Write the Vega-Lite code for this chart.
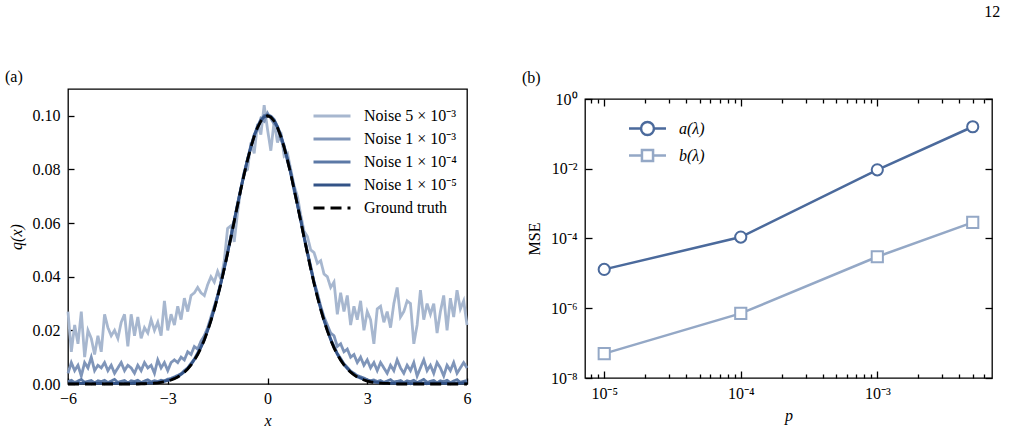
{
"$schema":"https://vega.github.io/schema/vega-lite/v6.json",
"background":"white",
"padding":{"left":4,"top":4,"right":0,"bottom":0},
"title":{"text":"12","anchor":"end","frame":"bounds","offset":48,"dx":7,"fontSize":16},
"config":{
 "font":"Liberation Serif",
 "view":{"stroke":"black","strokeWidth":1.3},
 "axis":{"labelFont":"Liberation Serif","labelFontSize":16,"titleFont":"Liberation Serif","titleFontSize":16,"titleFontWeight":"normal","labelColor":"black","titleColor":"black","tickColor":"black","tickWidth":1.3,"domain":false,"grid":false,"labelFlush":false,"labelOverlap":false},
 "legend":{"labelFont":"Liberation Serif","labelFontSize":16,"labelColor":"black","padding":0},
 "title":{"font":"Liberation Serif","fontSize":16,"fontWeight":"normal","color":"black"}
},
"spacing":48,
"resolve":{"scale":{"color":"independent","strokeDash":"independent","strokeWidth":"independent"},"legend":{"color":"independent","strokeDash":"independent","strokeWidth":"independent"}},
"hconcat":[
{
 "width":399,"height":295,
 "title":{"text":"(a)","anchor":"start","frame":"bounds","offset":4,"dx":-3},
 "data":{"values":[
{"x":-6.0,"g":0,"e5":0.0002,"e4":0.0009,"e3":0.004,"s5":0.027},
{"x":-5.9,"g":0,"e5":0.0003,"e4":0.0014,"e3":0.008,"s5":0.012},
{"x":-5.8,"g":0,"e5":0.0001,"e4":0.0005,"e3":0.005,"s5":0.022},
{"x":-5.7,"g":0,"e5":0.0003,"e4":0.0011,"e3":0.007,"s5":0.015},
{"x":-5.6,"g":0,"e5":0.0002,"e4":0.0017,"e3":0.003,"s5":0.027},
{"x":-5.5,"g":0,"e5":0.0004,"e4":0.0006,"e3":0.008,"s5":0.010},
{"x":-5.4,"g":0,"e5":0.0002,"e4":0.0010,"e3":0.006,"s5":0.020},
{"x":-5.3,"g":0,"e5":0.0001,"e4":0.0013,"e3":0.010,"s5":0.017},
{"x":-5.2,"g":0,"e5":0.0003,"e4":0.0004,"e3":0.005,"s5":0.011},
{"x":-5.1,"g":0,"e5":0.0002,"e4":0.0012,"e3":0.007,"s5":0.018},
{"x":-5.0,"g":0,"e5":0.0003,"e4":0.0009,"e3":0.006,"s5":0.012},
{"x":-4.9,"g":0,"e5":0.0001,"e4":0.0014,"e3":0.008,"s5":0.026},
{"x":-4.8,"g":0,"e5":0.0002,"e4":0.0005,"e3":0.005,"s5":0.021},
{"x":-4.7,"g":0,"e5":0.0004,"e4":0.0011,"e3":0.007,"s5":0.018},
{"x":-4.6,"g":0,"e5":0.0002,"e4":0.0017,"e3":0.004,"s5":0.020},
{"x":-4.5,"g":0,"e5":0.0003,"e4":0.0006,"e3":0.006,"s5":0.017},
{"x":-4.4,"g":0,"e5":0.0001,"e4":0.0010,"e3":0.008,"s5":0.023},
{"x":-4.3,"g":0,"e5":0.0002,"e4":0.0013,"e3":0.005,"s5":0.026},
{"x":-4.2,"g":0,"e5":0.0003,"e4":0.0004,"e3":0.007,"s5":0.014},
{"x":-4.1,"g":0,"e5":0.0002,"e4":0.0012,"e3":0.006,"s5":0.026},
{"x":-4.0,"g":0,"e5":0.0004,"e4":0.0009,"e3":0.004,"s5":0.018},
{"x":-3.9,"g":0,"e5":0.0002,"e4":0.0014,"e3":0.007,"s5":0.025},
{"x":-3.8,"g":0.0001,"e5":0.0003,"e4":0.0005,"e3":0.005,"s5":0.017},
{"x":-3.7,"g":0.0001,"e5":0.0002,"e4":0.0011,"e3":0.008,"s5":0.021},
{"x":-3.6,"g":0.0002,"e5":0.0004,"e4":0.0016,"e3":0.006,"s5":0.019},
{"x":-3.5,"g":0.0002,"e5":0.0003,"e4":0.0008,"e3":0.007,"s5":0.024},
{"x":-3.4,"g":0.0003,"e5":0.0005,"e4":0.0012,"e3":0.004,"s5":0.020},
{"x":-3.3,"g":0.0004,"e5":0.0006,"e4":0.0009,"e3":0.009,"s5":0.023},
{"x":-3.2,"g":0.0006,"e5":0.0008,"e4":0.0014,"e3":0.006,"s5":0.018},
{"x":-3.1,"g":0.0008,"e5":0.0010,"e4":0.0012,"e3":0.008,"s5":0.031},
{"x":-3.0,"g":0.0011,"e5":0.0013,"e4":0.0018,"e3":0.005,"s5":0.020},
{"x":-2.9,"g":0.0015,"e5":0.0017,"e4":0.0021,"e3":0.008,"s5":0.026},
{"x":-2.8,"g":0.0020,"e5":0.0022,"e4":0.0026,"e3":0.009,"s5":0.022},
{"x":-2.7,"g":0.0026,"e5":0.0027,"e4":0.0032,"e3":0.008,"s5":0.029},
{"x":-2.6,"g":0.0034,"e5":0.0036,"e4":0.0038,"e3":0.010,"s5":0.024},
{"x":-2.5,"g":0.0044,"e5":0.0045,"e4":0.0050,"e3":0.009,"s5":0.032},
{"x":-2.4,"g":0.0056,"e5":0.0058,"e4":0.0060,"e3":0.012,"s5":0.027},
{"x":-2.3,"g":0.0071,"e5":0.0072,"e4":0.0077,"e3":0.011,"s5":0.033},
{"x":-2.2,"g":0.0089,"e5":0.0091,"e4":0.0093,"e3":0.014,"s5":0.034},
{"x":-2.1,"g":0.0110,"e5":0.0111,"e4":0.0116,"e3":0.013,"s5":0.036},
{"x":-2.0,"g":0.0135,"e5":0.0137,"e4":0.0139,"e3":0.016,"s5":0.034},
{"x":-1.9,"g":0.0164,"e5":0.0165,"e4":0.0170,"e3":0.018,"s5":0.033},
{"x":-1.8,"g":0.0198,"e5":0.0200,"e4":0.0202,"e3":0.021,"s5":0.037},
{"x":-1.7,"g":0.0236,"e5":0.0237,"e4":0.0241,"e3":0.025,"s5":0.040},
{"x":-1.6,"g":0.0278,"e5":0.0280,"e4":0.0282,"e3":0.029,"s5":0.038},
{"x":-1.5,"g":0.0325,"e5":0.0326,"e4":0.0330,"e3":0.033,"s5":0.042},
{"x":-1.4,"g":0.0375,"e5":0.0377,"e4":0.0379,"e3":0.038,"s5":0.039},
{"x":-1.3,"g":0.0430,"e5":0.0431,"e4":0.0436,"e3":0.043,"s5":0.046},
{"x":-1.2,"g":0.0487,"e5":0.0489,"e4":0.0491,"e3":0.049,"s5":0.058},
{"x":-1.1,"g":0.0546,"e5":0.0547,"e4":0.0552,"e3":0.055,"s5":0.059},
{"x":-1.0,"g":0.0607,"e5":0.0609,"e4":0.0611,"e3":0.061,"s5":0.053},
{"x":-0.9,"g":0.0667,"e5":0.0668,"e4":0.0673,"e3":0.067,"s5":0.064},
{"x":-0.8,"g":0.0726,"e5":0.0728,"e4":0.0730,"e3":0.073,"s5":0.073},
{"x":-0.7,"g":0.0783,"e5":0.0784,"e4":0.0789,"e3":0.078,"s5":0.079},
{"x":-0.6,"g":0.0835,"e5":0.0837,"e4":0.0839,"e3":0.084,"s5":0.080},
{"x":-0.5,"g":0.0882,"e5":0.0883,"e4":0.0888,"e3":0.088,"s5":0.090},
{"x":-0.4,"g":0.0923,"e5":0.0925,"e4":0.0927,"e3":0.093,"s5":0.086},
{"x":-0.3,"g":0.0956,"e5":0.0957,"e4":0.0962,"e3":0.095,"s5":0.097},
{"x":-0.2,"g":0.0980,"e5":0.0982,"e4":0.0984,"e3":0.099,"s5":0.093},
{"x":-0.1,"g":0.0995,"e5":0.0996,"e4":0.1001,"e3":0.098,"s5":0.104},
{"x":0.0,"g":0.1000,"e5":0.1002,"e4":0.1004,"e3":0.101,"s5":0.095},
{"x":0.1,"g":0.0995,"e5":0.0996,"e4":0.0999,"e3":0.099,"s5":0.087},
{"x":0.2,"g":0.0980,"e5":0.0982,"e4":0.0986,"e3":0.097,"s5":0.098},
{"x":0.3,"g":0.0956,"e5":0.0957,"e4":0.0960,"e3":0.096,"s5":0.090},
{"x":0.4,"g":0.0923,"e5":0.0925,"e4":0.0929,"e3":0.091,"s5":0.094},
{"x":0.5,"g":0.0882,"e5":0.0883,"e4":0.0886,"e3":0.089,"s5":0.085},
{"x":0.6,"g":0.0835,"e5":0.0837,"e4":0.0841,"e3":0.083,"s5":0.086},
{"x":0.7,"g":0.0783,"e5":0.0784,"e4":0.0787,"e3":0.079,"s5":0.080},
{"x":0.8,"g":0.0726,"e5":0.0728,"e4":0.0732,"e3":0.072,"s5":0.074},
{"x":0.9,"g":0.0667,"e5":0.0668,"e4":0.0671,"e3":0.067,"s5":0.070},
{"x":1.0,"g":0.0607,"e5":0.0609,"e4":0.0613,"e3":0.061,"s5":0.063},
{"x":1.1,"g":0.0546,"e5":0.0547,"e4":0.0550,"e3":0.055,"s5":0.057},
{"x":1.2,"g":0.0487,"e5":0.0489,"e4":0.0493,"e3":0.049,"s5":0.055},
{"x":1.3,"g":0.0430,"e5":0.0431,"e4":0.0434,"e3":0.044,"s5":0.050},
{"x":1.4,"g":0.0375,"e5":0.0377,"e4":0.0381,"e3":0.038,"s5":0.049},
{"x":1.5,"g":0.0325,"e5":0.0326,"e4":0.0329,"e3":0.034,"s5":0.045},
{"x":1.6,"g":0.0278,"e5":0.0280,"e4":0.0284,"e3":0.029,"s5":0.046},
{"x":1.7,"g":0.0236,"e5":0.0237,"e4":0.0240,"e3":0.025,"s5":0.041},
{"x":1.8,"g":0.0198,"e5":0.0200,"e4":0.0204,"e3":0.022,"s5":0.040},
{"x":1.9,"g":0.0164,"e5":0.0165,"e4":0.0168,"e3":0.019,"s5":0.036},
{"x":2.0,"g":0.0135,"e5":0.0137,"e4":0.0141,"e3":0.018,"s5":0.038},
{"x":2.1,"g":0.0110,"e5":0.0111,"e4":0.0114,"e3":0.014,"s5":0.026},
{"x":2.2,"g":0.0089,"e5":0.0091,"e4":0.0095,"e3":0.015,"s5":0.034},
{"x":2.3,"g":0.0071,"e5":0.0072,"e4":0.0075,"e3":0.012,"s5":0.027},
{"x":2.4,"g":0.0056,"e5":0.0058,"e4":0.0062,"e3":0.013,"s5":0.033},
{"x":2.5,"g":0.0044,"e5":0.0045,"e4":0.0048,"e3":0.010,"s5":0.022},
{"x":2.6,"g":0.0034,"e5":0.0036,"e4":0.0040,"e3":0.011,"s5":0.029},
{"x":2.7,"g":0.0026,"e5":0.0027,"e4":0.0031,"e3":0.008,"s5":0.024},
{"x":2.8,"g":0.0020,"e5":0.0022,"e4":0.0027,"e3":0.010,"s5":0.031},
{"x":2.9,"g":0.0015,"e5":0.0017,"e4":0.0022,"e3":0.007,"s5":0.020},
{"x":3.0,"g":0.0011,"e5":0.0013,"e4":0.0016,"e3":0.009,"s5":0.027},
{"x":3.1,"g":0.0008,"e5":0.0010,"e4":0.0012,"e3":0.006,"s5":0.024},
{"x":3.2,"g":0.0006,"e5":0.0008,"e4":0.0015,"e3":0.008,"s5":0.015},
{"x":3.3,"g":0.0004,"e5":0.0006,"e4":0.0009,"e3":0.005,"s5":0.028},
{"x":3.4,"g":0.0003,"e5":0.0005,"e4":0.0013,"e3":0.008,"s5":0.029},
{"x":3.5,"g":0.0002,"e5":0.0004,"e4":0.0006,"e3":0.006,"s5":0.023},
{"x":3.6,"g":0.0002,"e5":0.0003,"e4":0.0011,"e3":0.004,"s5":0.027},
{"x":3.7,"g":0.0001,"e5":0.0002,"e4":0.0016,"e3":0.007,"s5":0.021},
{"x":3.8,"g":0.0001,"e5":0.0003,"e4":0.0007,"e3":0.005,"s5":0.030},
{"x":3.9,"g":0,"e5":0.0002,"e4":0.0010,"e3":0.009,"s5":0.036},
{"x":4.0,"g":0,"e5":0.0004,"e4":0.0013,"e3":0.006,"s5":0.025},
{"x":4.1,"g":0,"e5":0.0002,"e4":0.0005,"e3":0.004,"s5":0.027},
{"x":4.2,"g":0,"e5":0.0003,"e4":0.0012,"e3":0.007,"s5":0.031},
{"x":4.3,"g":0,"e5":0.0001,"e4":0.0009,"e3":0.005,"s5":0.030},
{"x":4.4,"g":0,"e5":0.0002,"e4":0.0014,"e3":0.008,"s5":0.015},
{"x":4.5,"g":0,"e5":0.0004,"e4":0.0005,"e3":0.003,"s5":0.022},
{"x":4.6,"g":0,"e5":0.0002,"e4":0.0011,"e3":0.006,"s5":0.035},
{"x":4.7,"g":0,"e5":0.0003,"e4":0.0017,"e3":0.009,"s5":0.024},
{"x":4.8,"g":0,"e5":0.0001,"e4":0.0006,"e3":0.005,"s5":0.030},
{"x":4.9,"g":0,"e5":0.0002,"e4":0.0010,"e3":0.007,"s5":0.026},
{"x":5.0,"g":0,"e5":0.0003,"e4":0.0013,"e3":0.004,"s5":0.030},
{"x":5.1,"g":0,"e5":0.0002,"e4":0.0004,"e3":0.008,"s5":0.019},
{"x":5.2,"g":0,"e5":0.0004,"e4":0.0012,"e3":0.006,"s5":0.027},
{"x":5.3,"g":0,"e5":0.0002,"e4":0.0009,"e3":0.003,"s5":0.033},
{"x":5.4,"g":0,"e5":0.0003,"e4":0.0014,"e3":0.007,"s5":0.020},
{"x":5.5,"g":0,"e5":0.0001,"e4":0.0005,"e3":0.005,"s5":0.032},
{"x":5.6,"g":0,"e5":0.0002,"e4":0.0011,"e3":0.008,"s5":0.025},
{"x":5.7,"g":0,"e5":0.0003,"e4":0.0016,"e3":0.004,"s5":0.035},
{"x":5.8,"g":0,"e5":0.0002,"e4":0.0006,"e3":0.006,"s5":0.028},
{"x":5.9,"g":0,"e5":0.0004,"e4":0.0010,"e3":0.008,"s5":0.031},
{"x":6.0,"g":0,"e5":0.0002,"e4":0.0013,"e3":0.006,"s5":0.022}
 ]},
 "transform":[{"fold":["s5","e3","e4","e5","g"],"as":["series","q"]}],
 "mark":{"type":"line"},
 "encoding":{
  "x":{"field":"x","type":"quantitative","scale":{"domain":[-6,6],"nice":false,"zero":false},
       "axis":{"values":[-6,-3,0,3,6],"labelExpr":"datum.value < 0 ? '−' + abs(datum.value) : '' + datum.value","title":"x","titleFontStyle":"italic","tickSize":-6,"labelPadding":12,"titlePadding":6}},
  "y":{"field":"q","type":"quantitative","scale":{"domain":[0,0.11],"nice":false},
       "axis":{"values":[0,0.02,0.04,0.06,0.08,0.1],"format":".2f","title":"q(x)","titleFontStyle":"italic","tickSize":-6,"labelPadding":14,"titlePadding":8}},
  "color":{"field":"series","type":"nominal",
     "scale":{"domain":["s5","e3","e4","e5","g"],"range":["#a7b7cf","#7f95b9","#5c79a6","#335387","#000000"]},
     "legend":{"title":null,"orient":"none","legendX":253,"legendY":16,"symbolType":"M-2,0L2,0","symbolSize":342,"labelOffset":21,"rowPadding":4,
       "labelExpr":"datum.value == 's5' ? 'Noise 5 × 10⁻³' : datum.value == 'e3' ? 'Noise 1 × 10⁻³' : datum.value == 'e4' ? 'Noise 1 × 10⁻⁴' : datum.value == 'e5' ? 'Noise 1 × 10⁻⁵' : 'Ground truth'"}},
  "strokeDash":{"field":"series","type":"nominal",
     "scale":{"domain":["s5","e3","e4","e5","g"],"range":[[1,0],[1,0],[1,0],[1,0],[11,6]]}},
  "strokeWidth":{"field":"series","type":"nominal",
     "scale":{"domain":["s5","e3","e4","e5","g"],"range":[2.8,2.8,2.8,2.8,3.3]}}
 }
},
{
 "spacing":0,
 "vconcat":[
 {
  "width":407,"height":1,
  "title":{"text":"(b)","anchor":"start","frame":"group","offset":3,"dx":-63},
  "view":{"stroke":null},
  "mark":{"type":"text"},
  "encoding":{}
 },
 {
 "width":407,"height":279,
 "data":{"values":[
  {"p":0.00001,"s":"a","mse":0.000013},
  {"p":0.0001,"s":"a","mse":0.00011},
  {"p":0.001,"s":"a","mse":0.0093},
  {"p":0.005,"s":"a","mse":0.16},
  {"p":0.00001,"s":"b","mse":0.00000005},
  {"p":0.0001,"s":"b","mse":0.00000071},
  {"p":0.001,"s":"b","mse":0.00003},
  {"p":0.005,"s":"b","mse":0.00029}
 ]},
 "layer":[
  {"mark":{"type":"line","strokeWidth":2.5},
   "encoding":{
    "x":{"field":"p","type":"quantitative","scale":{"type":"log","domain":[0.00000723,0.00692],"nice":false},
         "axis":{"orient":"bottom","values":[0.00001,0.0001,0.001],"labelExpr":"datum.value < 0.00003 ? '10⁻⁵' : datum.value < 0.0003 ? '10⁻⁴' : '10⁻³'","title":"p","titleFontStyle":"italic","tickSize":-7,"labelPadding":14,"titlePadding":6}},
    "y":{"field":"mse","type":"quantitative","scale":{"type":"log","domain":[0.00000001,1],"nice":false},
         "axis":{"orient":"left","values":[0.00000001,0.000001,0.0001,0.01,1],"labelExpr":"datum.value > 0.5 ? '10⁰' : datum.value > 0.001 ? '10⁻²' : datum.value > 0.00001 ? '10⁻⁴' : datum.value > 0.0000001 ? '10⁻⁶' : '10⁻⁸'","title":"MSE","tickSize":-7,"labelPadding":15,"titlePadding":8}},
    "color":{"field":"s","type":"nominal","scale":{"domain":["a","b"],"range":["#4b6a9c","#94a8c6"]},
      "legend":{"title":null,"orient":"none","legendX":52,"legendY":29,"symbolType":"M-2,0L2,0","symbolSize":342,"symbolStrokeWidth":2.5,"labelOffset":21,"rowPadding":4,"labelFontStyle":"italic",
        "labelExpr":"datum.value == 'a' ? 'a(λ)' : 'b(λ)'",
        "encode":{"symbols":{"update":{"shape":{"signal":"datum.value == 'a' ? 'M-2,0L-0.7,0M0.7,0L2,0M-0.7,0A0.7,0.7,0,1,1,0.7,0A0.7,0.7,0,1,1,-0.7,0' : 'M-2,0L-0.6,0M0.6,0L2,0M-0.6,-0.6L0.6,-0.6L0.6,0.6L-0.6,0.6Z'"},"fill":{"value":"white"}}}}}}
   }},
  {"transform":[{"filter":"datum.s == 'a'"}],
   "mark":{"type":"point","shape":"circle","filled":false,"fill":"white","stroke":"#4b6a9c","size":125,"strokeWidth":2,"opacity":1},
   "encoding":{
    "x":{"field":"p","type":"quantitative","axis":null},
    "y":{"field":"mse","type":"quantitative","axis":null}
   }},
  {"transform":[{"filter":"datum.s == 'b'"}],
   "mark":{"type":"point","shape":"square","filled":false,"fill":"white","stroke":"#94a8c6","size":125,"strokeWidth":2,"opacity":1},
   "encoding":{
    "x":{"field":"p","type":"quantitative","axis":null},
    "y":{"field":"mse","type":"quantitative","axis":null}
   }},
  {"mark":{"type":"point","opacity":0},
   "encoding":{
    "x":{"field":"p","type":"quantitative","axis":{"orient":"top","values":[0.00001,0.0001,0.001],"labels":false,"title":null,"tickSize":-7}},
    "y":{"field":"mse","type":"quantitative","axis":{"orient":"right","values":[0.00000001,0.000001,0.0001,0.01,1],"labels":false,"title":null,"tickSize":-7}}
   }},
  {"mark":{"type":"point","opacity":0},
   "encoding":{
    "x":{"field":"p","type":"quantitative","axis":{"orient":"bottom","values":[0.000008,0.000009,0.00002,0.00003,0.00004,0.00005,0.00006,0.00007,0.00008,0.00009,0.0002,0.0003,0.0004,0.0005,0.0006,0.0007,0.0008,0.0009,0.002,0.003,0.004,0.005,0.006],"labels":false,"title":null,"tickSize":-4}},
    "y":{"field":"mse","type":"quantitative","axis":null}
   }},
  {"mark":{"type":"point","opacity":0},
   "encoding":{
    "x":{"field":"p","type":"quantitative","axis":{"orient":"top","values":[0.000008,0.000009,0.00002,0.00003,0.00004,0.00005,0.00006,0.00007,0.00008,0.00009,0.0002,0.0003,0.0004,0.0005,0.0006,0.0007,0.0008,0.0009,0.002,0.003,0.004,0.005,0.006],"labels":false,"title":null,"tickSize":-4}},
    "y":{"field":"mse","type":"quantitative","axis":null}
   }}
 ],
 "resolve":{"axis":{"x":"independent","y":"independent"}}
 }
 ]
}
]
}
